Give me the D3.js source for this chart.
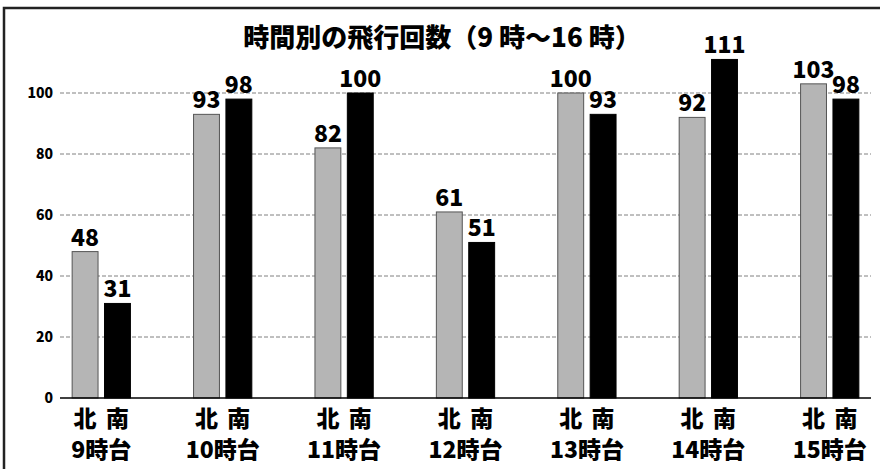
<!DOCTYPE html>
<html>
<head>
<meta charset="utf-8">
<script src="https://cdn.jsdelivr.net/npm/d3@7.9.0/dist/d3.min.js"></script>
<style>
  body { margin: 0; background: #fff; }
  svg { display: block; font-family: "Noto Sans CJK JP", sans-serif; font-weight: 900; }
</style>
</head>
<body>
<svg width="880" height="469"></svg>
<script>
const hours = ['9時台', '10時台', '11時台', '12時台', '13時台', '14時台', '15時台'];
const sides = ['北', '南'];
const north = [48, 93, 82, 61, 100, 92, 103];
const south = [31, 98, 100, 51, 93, 111, 98];
const yTicks = [0, 20, 40, 60, 80, 100];

const svg = d3.select('svg');

// frame
svg.append('rect')
  .attr('x', 4).attr('y', 8)
  .attr('width', 885).attr('height', 480)
  .attr('fill', 'none').attr('stroke', '#222').attr('stroke-width', 2.5);

let x = d3.scaleBand().domain(hours).range([60, 871]).paddingInner(0.52).paddingOuter(0.1);
let xs = d3.scaleBand().domain(sides).range([0, x.bandwidth()]).paddingInner(0.2);
let y = d3.scaleLinear().domain([0, 100]).range([398, 93]);

// gridlines
svg.append('g')
  .selectAll('line')
  .data(yTicks.filter(d => d > 0))
  .join('line')
  .attr('x1', 60).attr('x2', 871)
  .attr('y1', d => y(d)).attr('y2', d => y(d))
  .attr('stroke', '#808080').attr('stroke-width', 1)
  .attr('stroke-dasharray', '4,2');

// y tick labels
svg.append('g')
  .selectAll('text')
  .data(yTicks)
  .join('text')
  .attr('x', 53)
  .attr('y', d => y(d))
  .attr('dy', '0.35em')
  .attr('text-anchor', 'end')
  .attr('font-size', 14)
  .text(d => d);

// bars
let rows = hours.map((h, i) => ({ hour: h, vals: [north[i], south[i]] }));
let groups = svg.append('g')
  .selectAll('g')
  .data(rows)
  .join('g')
  .attr('transform', d => `translate(${x(d.hour)},0)`);

groups.selectAll('rect')
  .data(d => d.vals.map((v, j) => ({ side: sides[j], value: v })))
  .join('rect')
  .attr('x', d => xs(d.side))
  .attr('y', d => y(d.value))
  .attr('width', xs.bandwidth())
  .attr('height', d => y(0) - y(d.value))
  .attr('fill', d => d.side === '北' ? '#b5b5b5' : '#000')
  .attr('stroke', d => d.side === '北' ? '#555' : '#000')
  .attr('stroke-width', 1);

groups.selectAll('text.val')
  .data(d => d.vals.map((v, j) => ({ side: sides[j], value: v })))
  .join('text')
  .attr('class', 'val')
  .attr('x', d => xs(d.side) + xs.bandwidth() / 2)
  .attr('y', d => y(d.value) - 6)
  .attr('text-anchor', 'middle')
  .attr('font-size', 23)
  .text(d => d.value);

groups.selectAll('text.side')
  .data(sides)
  .join('text')
  .attr('class', 'side')
  .attr('x', d => xs(d) + xs.bandwidth() / 2)
  .attr('y', 427)
  .attr('text-anchor', 'middle')
  .attr('font-size', 23)
  .text(d => d);

groups.append('text')
  .attr('x', x.bandwidth() / 2)
  .attr('y', 458)
  .attr('text-anchor', 'middle')
  .attr('font-size', 23)
  .text(d => d.hour);

// baseline
svg.append('line')
  .attr('x1', 60).attr('x2', 871)
  .attr('y1', y(0)).attr('y2', y(0))
  .attr('stroke', '#000').attr('stroke-width', 1.5);

// title
svg.append('text')
  .attr('x', 442).attr('y', 47)
  .attr('text-anchor', 'middle')
  .attr('font-size', 26)
  .text('時間別の飛行回数（9 時～16 時）');
</script>
</body>
</html>
